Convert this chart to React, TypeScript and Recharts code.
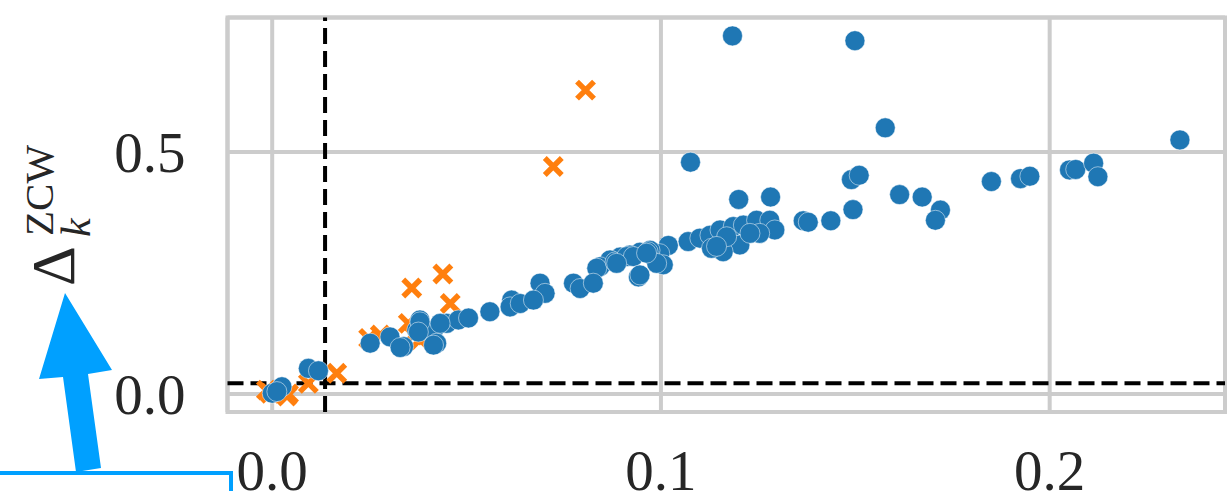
import React from "react";
import {
  ScatterChart,
  Scatter,
  XAxis,
  YAxis,
  CartesianGrid,
  ReferenceLine,
  ReferenceArea,
} from "recharts";

// values: [x, Δ]
const blueOutliers: [number, number][] = [
  [0.1184, 0.74], [0.1499, 0.73], [0.1577, 0.55], [0.1076, 0.479], [0.2335, 0.525],
  [0.149, 0.443], [0.151, 0.452], [0.1494, 0.381], [0.1614, 0.412], [0.1672, 0.407],
  [0.1719, 0.38], [0.1706, 0.359], [0.185, 0.439], [0.1925, 0.445], [0.1949, 0.45],
  [0.2051, 0.463], [0.2067, 0.464], [0.2113, 0.477], [0.2124, 0.449],
  [0.12, 0.402], [0.1282, 0.407], [0.1366, 0.358], [0.1379, 0.355], [0.1437, 0.358],
];

const blueBand: [number, number][] = [
  [0.1019, 0.307], [0.0997, 0.29], [0.0972, 0.297], [0.0946, 0.293], [0.092, 0.287],
  [0.0895, 0.283], [0.0869, 0.277], [0.0843, 0.263], [0.0942, 0.242], [0.1006, 0.267],
  [0.107, 0.315], [0.11, 0.322], [0.1126, 0.328], [0.1152, 0.339], [0.1186, 0.346],
  [0.1212, 0.349], [0.1246, 0.359], [0.128, 0.359], [0.1293, 0.339], [0.1203, 0.308],
  [0.116, 0.294], [0.113, 0.301], [0.1254, 0.332], [0.1169, 0.325], [0.1143, 0.305],
  [0.1229, 0.332],
];

const blueMid: [number, number][] = [
  [0.0616, 0.194], [0.0689, 0.229], [0.0702, 0.208], [0.0775, 0.229], [0.0792, 0.218],
  [0.0835, 0.26], [0.0826, 0.229], [0.0882, 0.273], [0.0912, 0.284], [0.0967, 0.294],
  [0.0989, 0.27], [0.056, 0.17], [0.0612, 0.18], [0.0638, 0.187], [0.0672, 0.194],
  [0.0338, 0.098], [0.038, 0.153], [0.0372, 0.132], [0.0415, 0.132], [0.0423, 0.105],
  [0.0449, 0.146], [0.0479, 0.153], [0.0505, 0.157], [0.0929, 0.284], [0.0886, 0.27],
  [0.0963, 0.291], [0.0946, 0.246],
];

const blueLow: [number, number][] = [
  [0.0, 0.0015], [0.0025, 0.015], [0.0012, 0.005], [0.0093, 0.053], [0.0119, 0.048],
  [0.0252, 0.105], [0.0303, 0.118], [0.0329, 0.096], [0.038, 0.149], [0.0376, 0.128],
  [0.0415, 0.101], [0.0432, 0.146],
];

const orangeMarks: [number, number][] = [
  [0.0359, 0.219], [0.0439, 0.248], [0.0458, 0.187], [0.035, 0.146], [0.038, 0.112],
  [0.0248, 0.115], [0.0278, 0.122], [0.0166, 0.043], [0.0093, 0.022], [-0.0005, 0.0015],
  [0.0038, -0.004], [-0.0015, 0.008], [0.0042, 0.0], [0.0723, 0.47], [0.0806, 0.628],
  [0.0363, 0.122],
];

const xTicks = [0, 0.1, 0.2];
const yTicks = [0, 0.5];
const xDomain: [number, number] = [-0.0115, 0.2451];
const yDomain: [number, number] = [-0.0372, 0.778];
const thresholdX = 0.0136;
const thresholdY = 0.022;

const toPoints = (rows: [number, number][]) => rows.map(([x, y]) => ({ x, y }));
const blueData = toPoints([...blueOutliers, ...blueBand, ...blueMid, ...blueLow]);
const orangeData = toPoints(orangeMarks);

const FONT = '"Liberation Serif", "DejaVu Serif", serif';
const INK = "#262626";

const BlueDot = (props: any) => (
  <circle cx={props.cx} cy={props.cy} r={10} fill="#1f77b4" stroke="#ffffff" strokeWidth={0.5} />
);

const OrangeCross = (props: any) => {
  const { cx, cy } = props;
  const s = 8.5;
  return (
    <path
      d={`M${cx - s},${cy - s}L${cx + s},${cy + s}M${cx - s},${cy + s}L${cx + s},${cy - s}`}
      stroke="#ff7f0e"
      strokeWidth={5.5}
      fill="none"
    />
  );
};

const XTick = (props: any) => (
  <text x={props.x} y={props.y + 78} textAnchor="middle" fontSize={57} fill={INK} fontFamily={FONT}>
    {Number(props.payload.value).toFixed(1)}
  </text>
);

const YTick = (props: any) => (
  <text x={props.x - 42} y={props.y + 20} textAnchor="end" fontSize={57} fill={INK} fontFamily={FONT}>
    {Number(props.payload.value).toFixed(1)}
  </text>
);

export default function App() {
  return (
    <div style={{ position: "absolute", left: 0, top: 0, width: 1227, height: 491, background: "#fff" }}>
      <ScatterChart width={1227} height={491} margin={{ top: 17.5, right: 2, bottom: 0, left: 0 }}>
        <CartesianGrid stroke="#cccccc" strokeWidth={4} />
        <XAxis
          type="number"
          dataKey="x"
          domain={xDomain}
          ticks={xTicks}
          allowDataOverflow
          height={79}
          axisLine={false}
          tickLine={false}
          tickSize={0}
          tickMargin={0}
          tick={XTick}
        />
        <YAxis
          type="number"
          dataKey="y"
          domain={yDomain}
          ticks={yTicks}
          allowDataOverflow
          width={227.5}
          axisLine={false}
          tickLine={false}
          tickSize={0}
          tickMargin={0}
          tick={YTick}
        />
        <ReferenceArea
          x1={xDomain[0]}
          x2={xDomain[1]}
          y1={yDomain[0]}
          y2={yDomain[1]}
          fill="none"
          fillOpacity={0}
          stroke="#cccccc"
          strokeWidth={4}
        />
        <Scatter data={orangeData} shape={OrangeCross} isAnimationActive={false} />
        <Scatter data={blueData} shape={BlueDot} isAnimationActive={false} />
        <ReferenceLine x={thresholdX} stroke="#000" strokeWidth={4} strokeDasharray="16 7" />
        <ReferenceLine y={thresholdY} stroke="#000" strokeWidth={4} strokeDasharray="16 7" />
      </ScatterChart>
      <svg
        width={1227}
        height={491}
        style={{ position: "absolute", left: 0, top: 0, pointerEvents: "none" }}
      >
        <text transform="translate(74,286) rotate(-90)" fontSize={62} fill={INK} fontFamily={FONT}>
          Δ
        </text>
        <text transform="translate(53,236) rotate(-90)" fontSize={41} fill={INK} fontFamily={FONT}>
          ZCW
        </text>
        <text
          transform="translate(90,237) rotate(-90)"
          fontSize={42}
          fontStyle="italic"
          fill={INK}
          fontFamily={FONT}
        >
          k
        </text>
        <polygon
          points="65,293 112,370 88,374 101,468 76,472 63,377 39,379"
          fill="#00a0ff"
        />
        <rect x={-5} y={473} width={236} height={40} fill="#ffffff" stroke="#00a0ff" strokeWidth={4} />
      </svg>
    </div>
  );
}
